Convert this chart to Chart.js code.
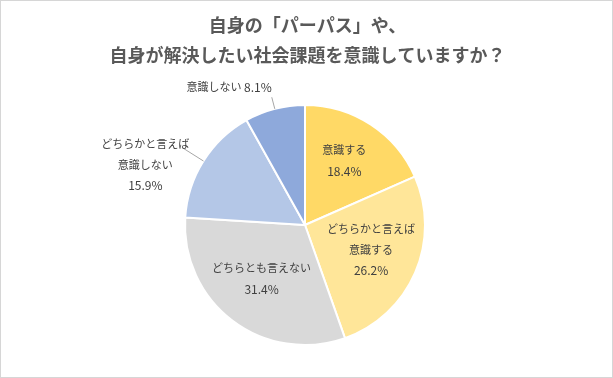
<!DOCTYPE html>
<html><head><meta charset="utf-8">
<script src="https://cdn.jsdelivr.net/npm/chart.js@4.4.1/dist/chart.umd.min.js"></script>
<style>
html,body{margin:0;padding:0;background:#fff;}
#wrap{position:relative;width:613px;height:378px;}
#frame{position:absolute;left:0;top:0;width:613px;height:378px;box-sizing:border-box;border:1px solid #d6d6d6;pointer-events:none;}
canvas{display:block;}
</style></head>
<body>
<div id="wrap"><canvas id="c" width="613" height="378"></canvas><div id="frame"></div></div>
<script>
const titleLines = ["自身の「パーパス」や、", "自身が解決したい社会課題を意識していますか？"];
const categories = ["意識する", "どちらかと言えば\n意識する", "どちらとも言えない", "どちらかと言えば\n意識しない", "意識しない"];
const values = [18.4, 26.2, 31.4, 15.9, 8.1];
const colors = ["#FFD966", "#FFE699", "#D9D9D9", "#B4C7E7", "#8EA9DB"];

const FONT = "'Noto Sans CJK JP', 'Noto Sans', sans-serif";
const TEXT_FONT = "11px " + FONT;
const NUM_FONT = "12px " + FONT;

// label placement rules (styles), not data
const labelCfg = {
  insideRadius: 0.6,
  insideShiftY: -4,
  lineHeight: 21,
  outside: {
    3: { lineTo: 25, dx: -37, dy: 17, singleLine: false },
    4: { lineTo: 12, dx: 0, dy: -10, singleLine: true }
  }
};

const titlePlugin = {
  id: 'twoLineTitle',
  afterDraw(chart) {
    const ctx = chart.ctx;
    ctx.save();
    ctx.font = "bold 18px " + FONT;
    ctx.fillStyle = "#595959";
    ctx.textAlign = "center";
    ctx.textBaseline = "middle";
    titleLines.forEach((t, k) => ctx.fillText(t, chart.width / 2 + 1, 25 + k * 30));
    ctx.restore();
  }
};

function drawLines(ctx, lines, cx, cy, lh) {
  const h = (lines.length - 1) * lh;
  ctx.textAlign = "center";
  lines.forEach((t, k) => {
    ctx.font = (k === lines.length - 1) ? NUM_FONT : TEXT_FONT;
    ctx.fillText(t, cx, cy - h/2 + k*lh);
  });
}

const labelPlugin = {
  id: 'pieLabels',
  afterDatasetsDraw(chart) {
    const ctx = chart.ctx;
    const meta = chart.getDatasetMeta(0);
    ctx.save();
    ctx.fillStyle = "#404040";
    ctx.textBaseline = "middle";
    meta.data.forEach((arc, i) => {
      const p = arc.getProps(['x','y','startAngle','endAngle','outerRadius'], true);
      const mid = (p.startAngle + p.endAngle) / 2;
      const cos = Math.cos(mid), sin = Math.sin(mid);
      const pct = values[i].toFixed(1) + "%";
      const oc = labelCfg.outside[i];
      const lines = categories[i].split("\n").concat([pct]);
      if (!oc) {
        const r = p.outerRadius * labelCfg.insideRadius;
        drawLines(ctx, lines, p.x + cos * r, p.y + sin * r + labelCfg.insideShiftY, labelCfg.lineHeight);
      } else {
        const x0 = p.x + cos * p.outerRadius, y0 = p.y + sin * p.outerRadius;
        const x1 = p.x + cos * (p.outerRadius + oc.lineTo), y1 = p.y + sin * (p.outerRadius + oc.lineTo);
        ctx.strokeStyle = "#A6A6A6";
        ctx.lineWidth = 1;
        ctx.beginPath(); ctx.moveTo(x0, y0); ctx.lineTo(x1, y1); ctx.stroke();
        if (oc.singleLine) {
          ctx.textAlign = "right";
          ctx.font = NUM_FONT;
          const xr = x1 + oc.dx, yy = y1 + oc.dy;
          const numTxt = " " + pct;
          ctx.fillText(numTxt, xr, yy);
          const w = ctx.measureText(numTxt).width;
          ctx.font = TEXT_FONT;
          ctx.fillText(categories[i].replace("\n",""), xr - w, yy);
        } else {
          drawLines(ctx, lines, x1 + oc.dx, y1 + oc.dy, labelCfg.lineHeight);
        }
      }
    });
    ctx.restore();
  }
};

new Chart(document.getElementById('c'), {
  type: 'pie',
  data: {
    labels: categories,
    datasets: [{
      data: values,
      backgroundColor: colors,
      borderColor: "#ffffff",
      borderWidth: 2
    }]
  },
  options: {
    responsive: false,
    animation: false,
    layout: { padding: { left: 184, right: 187, bottom: 32, top: 104 } },
    plugins: {
      legend: { display: false },
      tooltip: { enabled: false },
      title: { display: false }
    }
  },
  plugins: [labelPlugin, titlePlugin]
});
</script>
</body></html>
